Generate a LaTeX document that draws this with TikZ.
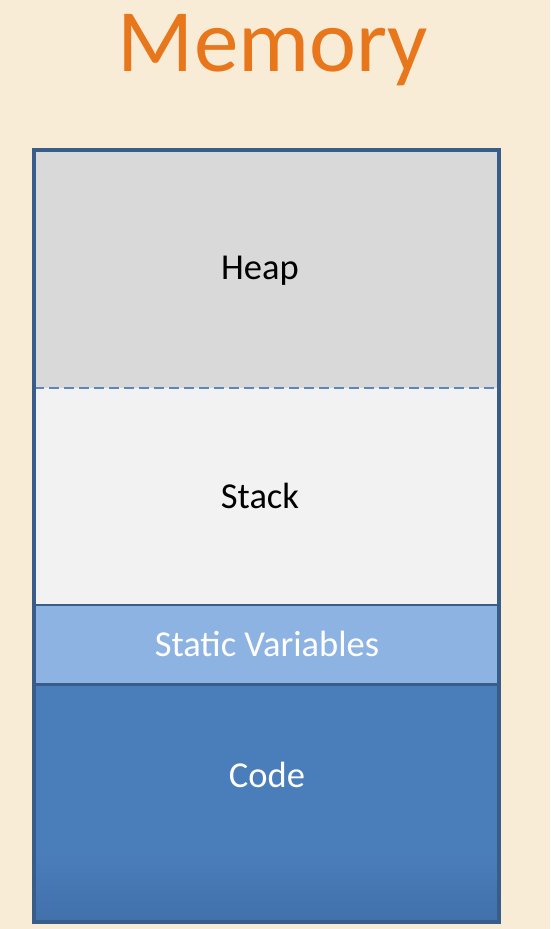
\documentclass[tikz,border=0pt]{standalone}
\usepackage{fontspec}
\setmainfont{Carlito}
\definecolor{bgc}{HTML}{F9ECD6}
\definecolor{titlec}{HTML}{E8761B}
\definecolor{heapc}{HTML}{D9D9D9}
\definecolor{stackc}{HTML}{F2F2F2}
\definecolor{staticc}{HTML}{8DB3E2}
\definecolor{codec}{HTML}{4A7EBB}
\definecolor{codedark}{HTML}{4270AB}
\definecolor{edgec}{HTML}{385D8A}
\definecolor{dashc}{HTML}{5B87BA}
\tikzset{
  region/.style={inner sep=0pt, outer sep=0pt},
  lbl/.style={font=\fontsize{36.5}{42}\selectfont, inner sep=0pt},
}
\begin{document}
\begin{tikzpicture}[x=1pt,y=-1pt]
\fill[bgc] (0,0) rectangle (550,929);
\useasboundingbox (0,0) rectangle (550,929);
% regions
\fill[heapc] (34,150) rectangle (499,388);
\fill[stackc] (34,388) rectangle (499,605);
\fill[staticc] (34,605) rectangle (499,684);
\fill[codec] (34,684) rectangle (499,850);
\shade[top color=codec, bottom color=codedark] (34,850) rectangle (499,922);
% separators
\draw[dashc, line width=1.5pt, dash pattern=on 10pt off 5pt] (34,388) -- (499,388);
\draw[edgec, line width=2pt] (34,605) -- (499,605);
\draw[edgec, line width=3pt] (34,684) -- (499,684);
% outer frame
\draw[edgec, line width=4pt] (34,150) rectangle (499,922);
% labels
\node[font=\fontsize{89}{94}\selectfont, text=titlec, inner sep=0pt] (title) at (273,50) {Memory};
\node[lbl] (heap) at (260,271) {Heap};
\node[lbl] (stack) at (260,496) {Stack};
\node[lbl, text=white] (static) at (267,644) {Static Variables};
\node[lbl, text=white] (code) at (267,775) {Code};
\end{tikzpicture}
\end{document}
